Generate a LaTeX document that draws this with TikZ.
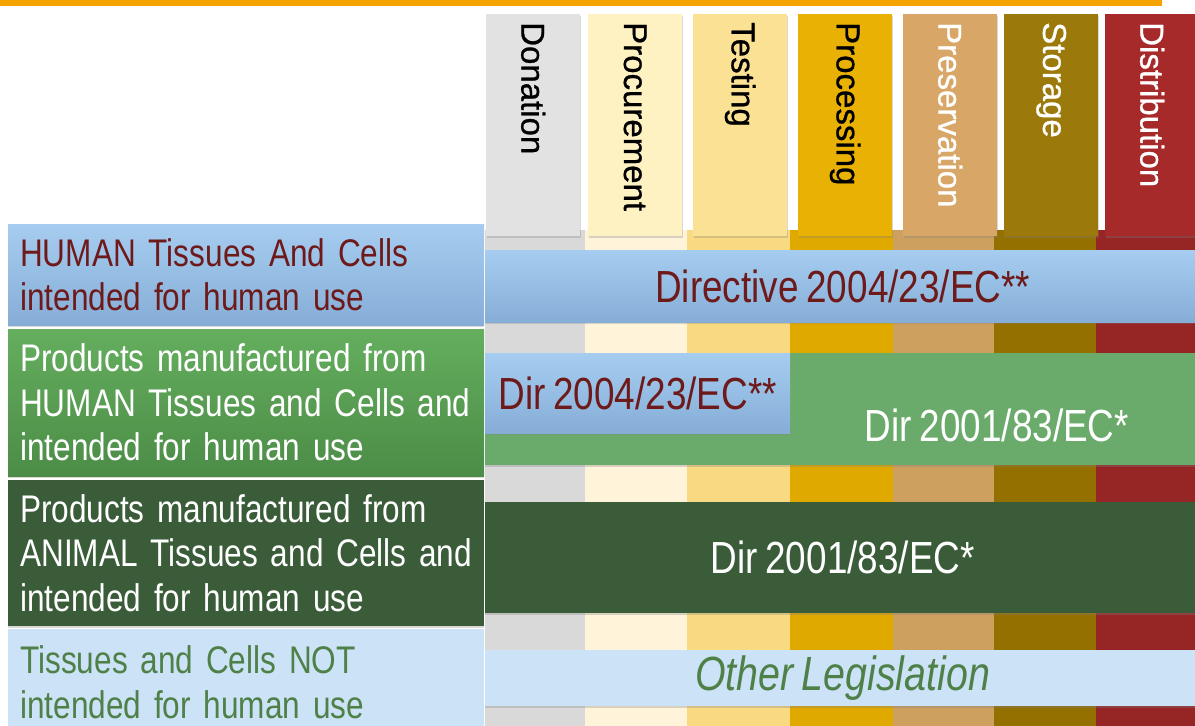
\documentclass[tikz,border=0pt]{standalone}
\usepackage{fontspec}
\setmainfont{Liberation Sans}
\newfontfamily\narrowfont[FakeStretch=0.82, WordSpace=0.75]{Liberation Sans}
\newfontfamily\hdrfont[FakeBold=0.8]{Liberation Sans}
\usepackage{xcolor}
\usepackage{tikz}
\usetikzlibrary{positioning, shadows}

\definecolor{topbar}{HTML}{F5A300}
\definecolor{cDon}{HTML}{E2E2E2}
\definecolor{sDon}{HTML}{D9D9D9}
\definecolor{cPro}{HTML}{FFF2C2}
\definecolor{sPro}{HTML}{FFF3D9}
\definecolor{cTes}{HTML}{FBE193}
\definecolor{sTes}{HTML}{F9DA82}
\definecolor{cPrc}{HTML}{E9B104}
\definecolor{sPrc}{HTML}{E0A900}
\definecolor{cPre}{HTML}{D8A767}
\definecolor{sPre}{HTML}{CDA060}
\definecolor{cSto}{HTML}{9C790B}
\definecolor{sSto}{HTML}{937000}
\definecolor{cDis}{HTML}{A62A2A}
\definecolor{sDis}{HTML}{962525}
\definecolor{blueTop}{HTML}{A6CDF0}
\definecolor{blueBot}{HTML}{86ADD6}
\definecolor{greenTop}{HTML}{64AE5E}
\definecolor{greenBot}{HTML}{4C8C47}
\definecolor{midgreen}{HTML}{6AAA6B}
\definecolor{darkgreen}{HTML}{3A5C39}
\definecolor{paleblue}{HTML}{CCE2F6}
\definecolor{maroon}{HTML}{6E1A1A}
\definecolor{textgreen}{HTML}{4E8048}

\begin{document}
\begin{tikzpicture}[x=1pt, y=-1pt,
    hdr/.style={anchor=north west, minimum width=94pt, minimum height=222pt, inner sep=0pt,
        drop shadow={shadow xshift=1pt, shadow yshift=-2pt, opacity=0.3}},
    hdrtxt/.style={rotate=-90, anchor=west, inner sep=0pt, font=\hdrfont\fontsize{33}{36}\selectfont},
    rowbox/.style={anchor=north west, minimum width=476pt, text width=452pt, inner xsep=12pt,
        inner ysep=0pt, align=left, font=\narrowfont\fontsize{38.5}{44.5}\selectfont,
        drop shadow={shadow xshift=0pt, shadow yshift=-2pt, opacity=0.3}},
    bar/.style={anchor=north west, inner sep=0pt, font=\narrowfont\fontsize{45}{50}\selectfont,
        drop shadow={shadow xshift=0pt, shadow yshift=-2pt, opacity=0.3}}]
    \useasboundingbox (0,0) rectangle (1195,726);

    % 1. Thanh cam phía trên và các dải màu nền
    \fill[topbar] (0,0) rectangle (1162,6);
    \fill[sDon] (485,230) rectangle (585,730);
    \fill[sPro] (585,230) rectangle (687,730);
    \fill[sTes] (687,230) rectangle (790,730);
    \fill[sPrc] (790,230) rectangle (893,730);
    \fill[sPre] (893,230) rectangle (994,730);
    \fill[sSto] (994,230) rectangle (1096,730);
    \fill[sDis] (1096,230) rectangle (1200,730);

    % 2. Các cột tiêu đề
    \node[hdr, fill=cDon] (hDon) at (486,14) {};
    \node[hdr, fill=cPro] (hPro) at (588,14) {};
    \node[hdr, fill=cTes] (hTes) at (693,14) {};
    \node[hdr, fill=cPrc] (hPrc) at (798,14) {};
    \node[hdr, fill=cPre] (hPre) at (903,14) {};
    \node[hdr, fill=cSto] (hSto) at (1004,14) {};
    \node[hdr, fill=cDis] (hDis) at (1105,14) {};
    \node[hdrtxt] (tDon) at ([yshift=-8pt]hDon.north) {Donation};
    \node[hdrtxt] (tPro) at ([yshift=-8pt]hPro.north) {Procurement};
    \node[hdrtxt] (tTes) at ([yshift=-8pt]hTes.north) {Testing};
    \node[hdrtxt] (tPrc) at ([yshift=-8pt]hPrc.north) {Processing};
    \node[hdrtxt, text=white] (tPre) at ([yshift=-8pt]hPre.north) {Preservation};
    \node[hdrtxt, text=white] (tSto) at ([yshift=-8pt]hSto.north) {Storage};
    \node[hdrtxt, text=white] (tDis) at ([yshift=-8pt]hDis.north) {Distribution};

    % 3. Các hàng bên trái
    \node[rowbox, minimum height=101pt, top color=blueTop, bottom color=blueBot, text=maroon]
        (human) at (8,224) {HUMAN Tissues And Cells\\intended for human use};
    \node[rowbox, minimum height=147pt, top color=greenTop, bottom color=greenBot, text=white]
        (humanprod) at (8,329) {Products manufactured from\\HUMAN Tissues and Cells and\\intended for human use};
    \node[rowbox, minimum height=146pt, fill=darkgreen, text=white]
        (animalprod) at (8,480) {Products manufactured from\\ANIMAL Tissues and Cells and\\intended for human use};
    \node[rowbox, minimum height=106pt, fill=paleblue, text=textgreen]
        (nothuman) at (8,629) {Tissues and Cells NOT\\intended for human use};

    % 4. Các thanh văn bản pháp lý
    \node[bar, minimum width=715pt, minimum height=72pt, top color=blueTop, bottom color=blueBot, text=maroon]
        (dirA) at (485,250) {Directive 2004/23/EC**};
    \node[bar, minimum width=715pt, minimum height=112pt, fill=midgreen] (dirB) at (485,353) {};
    \node[bar, minimum width=305pt, minimum height=80pt, top color=blueTop, bottom color=blueBot, text=maroon]
        (dirC) at (485,353) {Dir 2004/23/EC**};
    \node[text=white, inner sep=0pt, font=\narrowfont\fontsize{45}{50}\selectfont]
        (dirBlab) at (997,425) {Dir 2001/83/EC*};
    \node[bar, minimum width=715pt, minimum height=111pt, fill=darkgreen, text=white]
        (dirD) at (485,502) {Dir 2001/83/EC*};
    \node[bar, minimum width=715pt, minimum height=56pt, fill=paleblue, text=textgreen,
        font=\narrowfont\itshape\fontsize{48}{52}\selectfont] (other) at (485,650) {Other Legislation};
\end{tikzpicture}
\end{document}
